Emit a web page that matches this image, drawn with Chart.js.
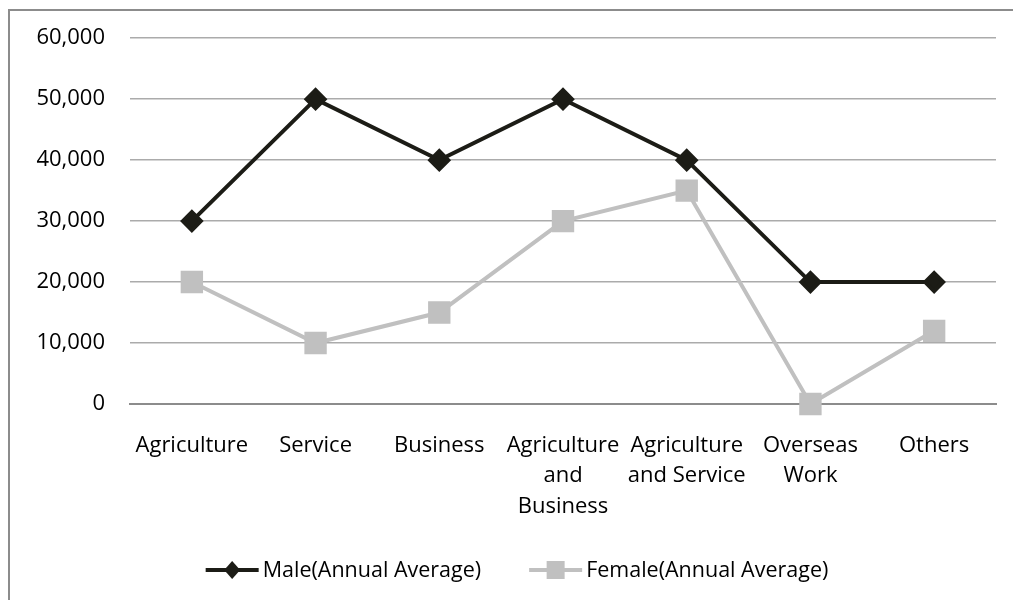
<!DOCTYPE html>
<html>
<head>
<meta charset="utf-8">
<script src="https://cdn.jsdelivr.net/npm/chart.js@4"></script>
<style>
  html, body { margin: 0; padding: 0; background: #fff; overflow: hidden; }
  #wrap { position: relative; width: 1013px; height: 600px; }
  #frame { position: absolute; left: 8px; top: 9px; width: 1020px; height: 610px; border: 2px solid #8c8c8c; box-sizing: border-box; pointer-events: none; }
  canvas { position: absolute; left: 0; top: 0; }
</style>
</head>
<body>
<div id="wrap">
  <canvas id="line-chart" width="1013" height="600"></canvas>
  <div id="frame"></div>
</div>
<script>
// categories and yearly averages
const labels = ['Agriculture', 'Service', 'Business', ['Agriculture', 'and', 'Business'], ['Agriculture', 'and Service'], ['Overseas', 'Work'], 'Others'];
const maleValues = [30000, 50000, 40000, 50000, 40000, 20000, 20000];
const femaleValues = [20000, 10000, 15000, 30000, 35000, 0, 12000];
const yTicks = [0, 10000, 20000, 30000, 40000, 50000, 60000];

const maleColor = '#1c1c16';
const femaleColor = '#c0c0c0';
const fontSize = 22;
const legendFont = '21.5px "Open Sans"';

// legend under the chart: a short line with the marker, then the name
const lineLegend = {
  id: 'lineLegend',
  afterDraw: function(chart) {
    var g = chart.ctx;
    var sets = chart.data.datasets;
    var symW = 53, gapText = 4, gapItem = 48;
    var cx = 517, cy = 570;
    g.save();
    g.font = legendFont;
    var total = 0;
    sets.forEach(function(ds, i) {
      total += symW + gapText + g.measureText(ds.label).width;
      if (i > 0) total += gapItem;
    });
    var x = cx - total / 2;
    sets.forEach(function(ds) {
      var mid = x + symW / 2;
      g.strokeStyle = ds.borderColor;
      g.lineWidth = 4;
      g.beginPath();
      g.moveTo(x, cy);
      g.lineTo(x + symW, cy);
      g.stroke();
      g.fillStyle = ds.borderColor;
      if (ds.pointStyle == 'rectRot') {
        g.beginPath();
        g.moveTo(mid, cy - 9);
        g.lineTo(mid + 8, cy);
        g.lineTo(mid, cy + 9);
        g.lineTo(mid - 8, cy);
        g.closePath();
        g.fill();
      } else {
        g.fillRect(mid - 9, cy - 9, 18, 18);
      }
      g.fillStyle = '#000';
      g.textBaseline = 'middle';
      g.textAlign = 'left';
      g.fillText(ds.label, x + symW + gapText, cy + 1);
      x += symW + gapText + g.measureText(ds.label).width + gapItem;
    });
    g.restore();
  }
};

var ctx = document.getElementById('line-chart');
var chart = new Chart(ctx, {
  type: 'line',
  data: {
    labels: labels,
    datasets: [{
      label: 'Male(Annual Average)',
      data: maleValues,
      borderColor: maleColor,
      backgroundColor: maleColor,
      borderWidth: 4,
      pointStyle: 'rectRot',
      pointRadius: 9,
      pointHoverRadius: 9,
      tension: 0,
      clip: false
    }, {
      label: 'Female(Annual Average)',
      data: femaleValues,
      borderColor: femaleColor,
      backgroundColor: femaleColor,
      borderWidth: 4,
      pointStyle: 'rect',
      pointRadius: 13,
      pointHoverRadius: 13,
      tension: 0,
      clip: false
    }]
  },
  options: {
    responsive: false,
    animation: false,
    layout: { padding: { left: 0, right: 14, top: 32, bottom: 56 } },
    scales: {
      x: {
        offset: true,
        grid: { display: false, drawTicks: false },
        border: { display: true, color: '#8c8c8c', width: 2 },
        ticks: {
          color: '#000',
          padding: 26,
          maxRotation: 0,
          autoSkip: false,
          font: { family: 'Open Sans', size: fontSize, lineHeight: 1.39 }
        },
        afterFit: function(scale) { scale.height = 140; }
      },
      y: {
        min: 0,
        max: 60000,
        afterBuildTicks: function(scale) {
          scale.ticks = yTicks.map(function(v) { return { value: v }; });
        },
        grid: { color: '#ababab', lineWidth: 1.5, drawTicks: false },
        border: { display: false },
        ticks: {
          color: '#000',
          padding: 25,
          font: { family: 'Open Sans', size: fontSize },
          callback: function(v) { return v.toLocaleString('en-US'); }
        },
        afterFit: function(scale) { scale.width = 130; }
      }
    },
    plugins: {
      legend: { display: false },
      tooltip: { enabled: false }
    }
  },
  plugins: [lineLegend]
});
</script>
</body>
</html>
